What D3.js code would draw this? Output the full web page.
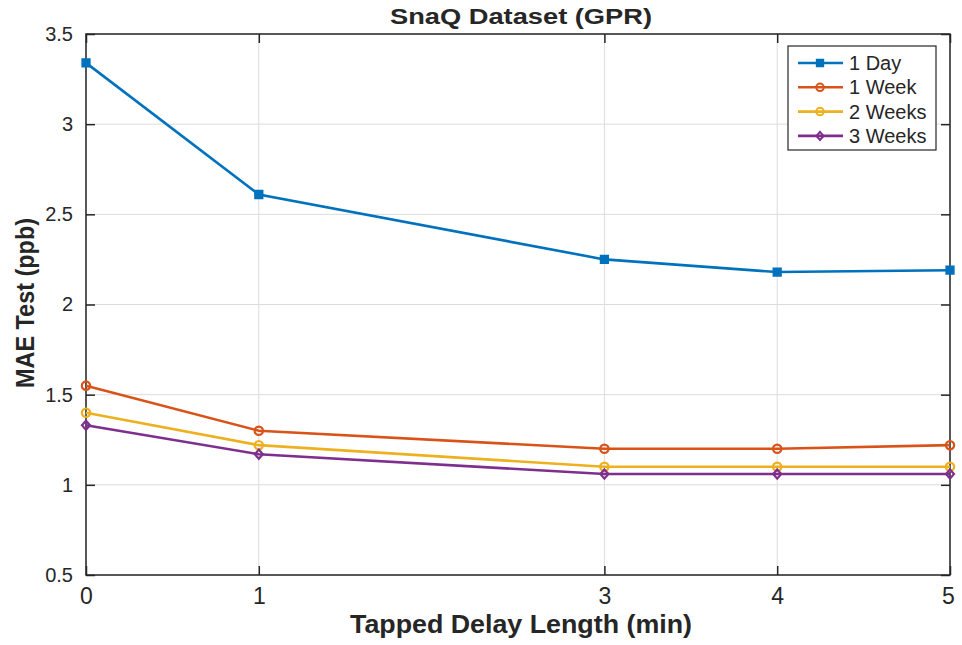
<!DOCTYPE html>
<html lang="en">
<head>
  <meta charset="UTF-8">
  <title>SnaQ Dataset (GPR)</title>
  <script src="https://d3js.org/d3.v7.min.js"></script>
  <style>
    body { margin: 0; background: #fff; }
    text { font-family: "Liberation Sans", Arial, sans-serif; fill: #262626; }
    .grid line { stroke: #dcdcdc; stroke-width: 1; }
    .axis path, .axis line { stroke: #262626; stroke-width: 1.5; }
  </style>
</head>
<body>
<script>
  // data
  var delays = [0, 1, 3, 4, 5];
  var seriesNames = ["1 Day", "1 Week", "2 Weeks", "3 Weeks"];
  var day1 = [3.34, 2.61, 2.25, 2.18, 2.19];
  var week1 = [1.55, 1.30, 1.20, 1.20, 1.22];
  var weeks2 = [1.40, 1.22, 1.10, 1.10, 1.10];
  var weeks3 = [1.33, 1.17, 1.06, 1.06, 1.06];
  var yTicks = [0.5, 1, 1.5, 2, 2.5, 3, 3.5];

  var colors = ["#0072BD", "#D95319", "#EDB120", "#7E2F8E"];
  var allSeries = [day1, week1, weeks2, weeks3];

  // MATLAB style diamond (square turned 45 degrees)
  var matDiamond = {
    draw: function (ctx, size) {
      var r = Math.sqrt(size) / 2;
      ctx.moveTo(0, -r * 1.15);
      ctx.lineTo(r, 0);
      ctx.lineTo(0, r * 1.15);
      ctx.lineTo(-r, 0);
      ctx.closePath();
    }
  };
  var symbols = [d3.symbolSquare, d3.symbolCircle, d3.symbolCircle, matDiamond];
  var symSizes = [50, 55, 55, 64];

  var W = 962, H = 645;
  var margin = { top: 34, right: 12, bottom: 70, left: 86 };
  var width = W - margin.left - margin.right;
  var height = H - margin.top - margin.bottom;

  var svg = d3.select("body").append("svg")
    .attr("width", W).attr("height", H);
  var g = svg.append("g")
    .attr("transform", "translate(" + margin.left + "," + margin.top + ")");

  var x = d3.scaleLinear().domain([0, 5]).range([0, width]);
  var y = d3.scaleLinear().domain([0.5, 3.5]).range([height, 0]);

  // grid
  var grid = g.append("g").attr("class", "grid");
  grid.selectAll("line.v").data(delays).enter().append("line").attr("class", "v")
    .attr("x1", d => x(d)).attr("x2", d => x(d))
    .attr("y1", 0).attr("y2", height);
  grid.selectAll("line.h").data(yTicks).enter().append("line").attr("class", "h")
    .attr("y1", d => y(d)).attr("y2", d => y(d))
    .attr("x1", 0).attr("x2", width);

  // axes (ticks inward like MATLAB)
  var xAxis = g.append("g").attr("class", "axis")
    .attr("transform", "translate(0," + height + ")")
    .call(d3.axisBottom(x).tickValues(delays).tickFormat(d3.format("d"))
      .tickSizeInner(-9).tickSizeOuter(0).tickPadding(13));
  var yAxis = g.append("g").attr("class", "axis")
    .call(d3.axisLeft(y).tickValues(yTicks).tickFormat(d3.format("~g"))
      .tickSizeInner(-9).tickSizeOuter(0).tickPadding(13));
  g.append("g").attr("class", "axis")
    .call(d3.axisTop(x).tickValues(delays).tickSizeInner(-9).tickSizeOuter(0).tickFormat(""));
  g.append("g").attr("class", "axis")
    .attr("transform", "translate(" + width + ",0)")
    .call(d3.axisRight(y).tickValues(yTicks).tickSizeInner(-9).tickSizeOuter(0).tickFormat(""));
  g.selectAll(".axis .domain").remove();
  g.append("rect").attr("width", width).attr("height", height)
    .attr("fill", "none").attr("stroke", "#262626").attr("stroke-width", 1.5);

  xAxis.selectAll("text").attr("font-size", 23).attr("fill", "#262626");
  xAxis.selectAll(".tick:last-of-type text").attr("text-anchor", "middle").attr("dx", "-2");
  yAxis.selectAll("text").attr("font-size", 20).attr("fill", "#262626");

  // lines
  var line = d3.line().x((d, i) => x(delays[i])).y(d => y(d));
  allSeries.forEach(function (s, k) {
    g.append("path").datum(s)
      .attr("d", line)
      .attr("fill", "none")
      .attr("stroke", colors[k])
      .attr("stroke-width", 2.6);
    g.selectAll(".m" + k).data(s).enter().append("path")
      .attr("transform", (d, i) => "translate(" + x(delays[i]) + "," + y(d) + ")")
      .attr("d", d3.symbol().type(symbols[k]).size(symSizes[k]))
      .attr("fill", k === 0 ? colors[k] : "none")
      .attr("stroke", colors[k])
      .attr("stroke-width", 2.2);
  });

  // title and labels
  svg.append("text")
    .attr("x", margin.left + width / 2 + 3).attr("y", 24)
    .attr("text-anchor", "middle")
    .attr("font-size", 22).attr("font-weight", "bold")
    .attr("textLength", 262).attr("lengthAdjust", "spacingAndGlyphs")
    .text("SnaQ Dataset (GPR)");
  svg.append("text")
    .attr("x", 521).attr("y", 633)
    .attr("text-anchor", "middle")
    .attr("font-size", 26).attr("font-weight", "bold")
    .attr("textLength", 342).attr("lengthAdjust", "spacingAndGlyphs")
    .text("Tapped Delay Length (min)");
  svg.append("text")
    .attr("transform", "translate(34,303) rotate(-90)")
    .attr("text-anchor", "middle")
    .attr("font-size", 26).attr("font-weight", "bold")
    .attr("textLength", 170).attr("lengthAdjust", "spacingAndGlyphs")
    .text("MAE Test (ppb)");

  // legend
  var leg = svg.append("g").attr("transform", "translate(788,46)");
  leg.append("rect").attr("width", 148).attr("height", 104)
    .attr("fill", "#fff").attr("stroke", "#262626").attr("stroke-width", 1.2);
  seriesNames.forEach(function (name, k) {
    var yy = 17 + k * 24.3;
    leg.append("line").attr("x1", 10).attr("x2", 55).attr("y1", yy).attr("y2", yy)
      .attr("stroke", colors[k]).attr("stroke-width", 2.6);
    leg.append("path")
      .attr("transform", "translate(32," + yy + ")")
      .attr("d", d3.symbol().type(symbols[k]).size(symSizes[k] * 0.8))
      .attr("fill", k === 0 ? colors[k] : "none")
      .attr("stroke", colors[k]).attr("stroke-width", 2);
    leg.append("text").attr("x", 61).attr("y", yy + 7)
      .attr("font-size", 20).text(name);
  });
</script>
</body>
</html>
